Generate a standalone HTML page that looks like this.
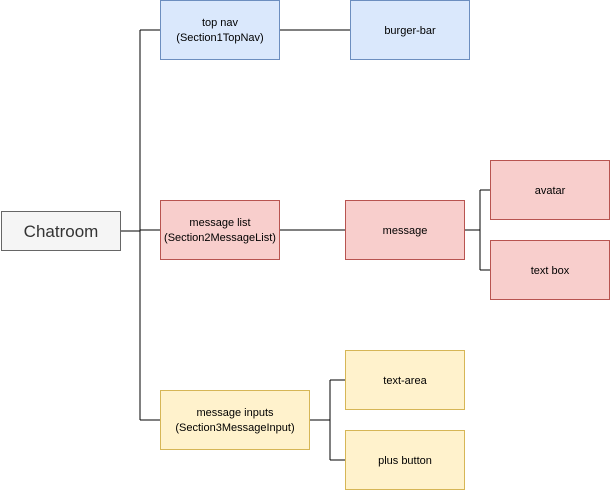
<!DOCTYPE html>
<html><head><style>
body{margin:0;background:#fff;width:612px;height:491px;overflow:hidden}
svg text{font-family:"Liberation Sans",Helvetica,sans-serif;font-size:11px;text-anchor:middle}
</style></head><body>
<svg width="612" height="491" viewBox="0 0 612 491" xmlns="http://www.w3.org/2000/svg">
<g stroke="#000" stroke-width="1" fill="none">
<path d="M121 231H140M140 30V420M140 30H160M140 230H160M140 420H160"/>
<path d="M280 30H350"/>
<path d="M280 230H345"/>
<path d="M465 230H480M480 190V270M480 190H490M480 270H490"/>
<path d="M310 420H330M330 380V460M330 380H345M330 460H345"/>
</g>
<rect x="1.5" y="211.5" width="119" height="39" fill="#f5f5f5" stroke="#666"/>
<text x="61" y="237" style="font-size:17px" fill="#333">Chatroom</text>
<g stroke="#6c8ebf" fill="#dae8fc">
<rect x="160.5" y="0.5" width="119" height="59"/>
<rect x="350.5" y="0.5" width="119" height="59"/>
</g>
<g stroke="#b85450" fill="#f8cecc">
<rect x="160.5" y="200.5" width="119" height="59"/>
<rect x="345.5" y="200.5" width="119" height="59"/>
<rect x="490.5" y="160.5" width="119" height="59"/>
<rect x="490.5" y="240.5" width="119" height="59"/>
</g>
<g stroke="#d6b656" fill="#fff2cc">
<rect x="160.5" y="390.5" width="149" height="59"/>
<rect x="345.5" y="350.5" width="119" height="59"/>
<rect x="345.5" y="430.5" width="119" height="59"/>
</g>
<text x="220" y="26">top nav</text>
<text x="220" y="41">(Section1TopNav)</text>
<text x="410" y="34">burger-bar</text>
<text x="220" y="226">message list</text>
<text x="220" y="241">(Section2MessageList)</text>
<text x="405" y="234">message</text>
<text x="550" y="194">avatar</text>
<text x="550" y="274">text box</text>
<text x="235" y="416">message inputs</text>
<text x="235" y="431">(Section3MessageInput)</text>
<text x="405" y="384">text-area</text>
<text x="405" y="464">plus button</text>
</svg>
</body></html>
